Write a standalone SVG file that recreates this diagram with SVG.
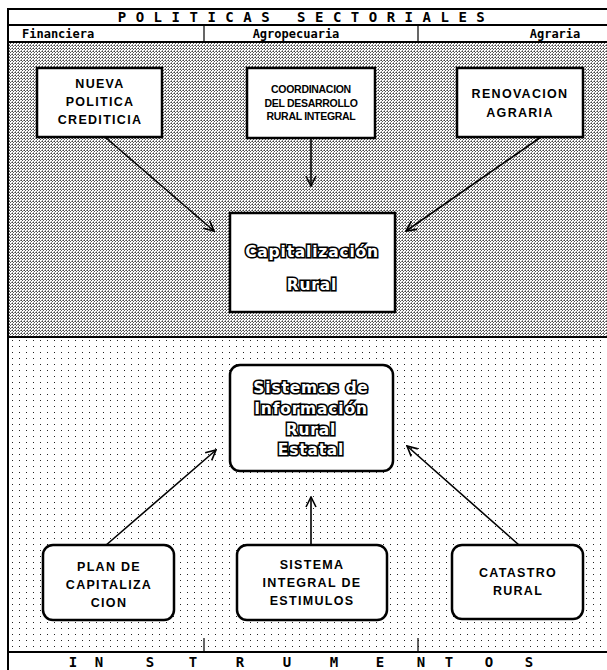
<svg xmlns="http://www.w3.org/2000/svg" width="607" height="670" viewBox="0 0 607 670">
  <defs>
    <!-- dense halftone for the policy band -->
    <pattern id="dense" x="0" y="0" width="3" height="3" patternUnits="userSpaceOnUse">
      <rect x="0" y="0" width="1" height="1" fill="#444"/>
      <rect x="2" y="0" width="1" height="1" fill="#888"/>
      <rect x="1" y="1" width="1" height="1" fill="#555"/>
      <rect x="0" y="2" width="1" height="1" fill="#999"/>
    </pattern>
    <!-- sparse dot screen for the instruments band -->
    <pattern id="sparse" x="10" y="338" width="7" height="6" patternUnits="userSpaceOnUse">
      <rect x="2" y="2" width="1" height="1" fill="#222"/>
    </pattern>
    <marker id="vee" viewBox="0 0 12 12" refX="11" refY="6" markerWidth="12" markerHeight="12" markerUnits="userSpaceOnUse" orient="auto">
      <path d="M1,1 L11,6 L1,11" fill="none" stroke="#000" stroke-width="1.6"/>
    </marker>
    <style>
      .frame { fill: none; stroke: #000; stroke-width: 2; }
      .head { font-family: "DejaVu Sans Mono", "Liberation Mono", monospace; font-weight: bold; fill: #000; }
      .box { fill: #fff; stroke: #000; stroke-width: 2.5; }
      .lbl { font-family: "Liberation Sans", Arial, sans-serif; font-weight: bold; font-size: 12.5px; fill: #000; text-anchor: middle; letter-spacing: 1.3px; }
      .cond { font-family: "Liberation Sans Narrow", "Liberation Sans", sans-serif; font-weight: bold; font-size: 10.5px; fill: #000; text-anchor: middle; letter-spacing: -0.3px; }
      .outl { font-family: "DejaVu Sans", "Liberation Sans", sans-serif; font-weight: bold; font-size: 15.5px; fill: #fff; stroke: #000; stroke-width: 3.2; paint-order: stroke; text-anchor: middle; letter-spacing: 0.8px; }
      .conn { stroke: #000; stroke-width: 1.6; fill: none; }
    </style>
  </defs>

  <rect width="607" height="670" fill="#fff"/>

  <!-- background bands -->
  <rect x="9" y="43" width="598" height="294" fill="url(#dense)"/>
  <rect x="9" y="337" width="598" height="315" fill="url(#sparse)"/>

  <!-- header frame -->
  <g id="frame">
    <line x1="8" y1="9" x2="607" y2="9" class="frame"/>
    <line x1="8" y1="25" x2="607" y2="25" class="frame"/>
    <line x1="8" y1="42" x2="607" y2="42" class="frame"/>
    <line x1="8" y1="8" x2="8" y2="670" class="frame"/>
    <line x1="8" y1="337" x2="607" y2="337" class="frame" stroke-width="2.5"/>
    <line x1="8" y1="652" x2="607" y2="652" class="frame"/>
    <line x1="204" y1="25" x2="204" y2="42" stroke="#000" stroke-width="1.2"/>
    <line x1="418" y1="25" x2="418" y2="42" stroke="#000" stroke-width="1.2"/>
    <line x1="204" y1="638" x2="204" y2="652" stroke="#000" stroke-width="1.2"/>
    <line x1="418" y1="638" x2="418" y2="652" stroke="#000" stroke-width="1.2"/>
    <text x="306" y="22" class="head" font-size="14" text-anchor="middle" letter-spacing="9.5">POLITICAS SECTORIALES</text>
    <text x="22" y="38" class="head" font-size="12">Financiera</text>
    <text x="296" y="38" class="head" font-size="12" text-anchor="middle">Agropecuaria</text>
    <text x="555" y="38" class="head" font-size="12" text-anchor="middle">Agraria</text>
    <text y="667" class="head" font-size="14" text-anchor="middle"><tspan x="73">I</tspan><tspan x="99">N</tspan><tspan x="150">S</tspan><tspan x="193">T</tspan><tspan x="240">R</tspan><tspan x="287">U</tspan><tspan x="334">M</tspan><tspan x="380">E</tspan><tspan x="421">N</tspan><tspan x="449">T</tspan><tspan x="489">O</tspan><tspan x="529">S</tspan></text>
  </g>

  <!-- connectors -->
  <g id="connectors">
    <line x1="105" y1="137" x2="214" y2="231" class="conn" marker-end="url(#vee)"/>
    <line x1="311" y1="139" x2="311" y2="186" class="conn" marker-end="url(#vee)"/>
    <line x1="541" y1="137" x2="406" y2="231" class="conn" marker-end="url(#vee)"/>
    <line x1="105" y1="546" x2="216" y2="450" class="conn" marker-end="url(#vee)"/>
    <line x1="311" y1="545" x2="311" y2="497" class="conn" marker-end="url(#vee)"/>
    <line x1="519" y1="545" x2="407" y2="446" class="conn" marker-end="url(#vee)"/>
  </g>

  <g id="nueva-politica">
    <rect x="37" y="68" width="125" height="69" class="box"/>
    <text class="lbl"><tspan x="100" y="88">NUEVA</tspan><tspan x="100" y="106">POLITICA</tspan><tspan x="100" y="124">CREDITICIA</tspan></text>
  </g>

  <g id="coordinacion">
    <rect x="247" y="68" width="128" height="70" class="box"/>
    <text class="cond"><tspan x="311" y="93">COORDINACION</tspan><tspan x="311" y="107">DEL DESARROLLO</tspan><tspan x="311" y="120">RURAL INTEGRAL</tspan></text>
  </g>

  <g id="renovacion">
    <rect x="457" y="68" width="126" height="69" class="box"/>
    <text class="lbl"><tspan x="520" y="98">RENOVACION</tspan><tspan x="520" y="117">AGRARIA</tspan></text>
  </g>

  <g id="capitalizacion">
    <rect x="230" y="213" width="165" height="99" class="box"/>
    <text class="outl"><tspan x="312" y="257">Capitalización</tspan><tspan x="312" y="290">Rural</tspan></text>
  </g>

  <g id="sistemas-informacion">
    <rect x="230" y="365" width="163" height="106" rx="10" class="box"/>
    <text class="outl"><tspan x="311" y="393">Sistemas de</tspan><tspan x="311" y="414">Información</tspan><tspan x="311" y="435">Rural</tspan><tspan x="311" y="455">Estatal</tspan></text>
  </g>

  <g id="plan-capitalizacion">
    <rect x="43" y="545" width="131" height="75" rx="10" class="box"/>
    <text class="lbl"><tspan x="109" y="571">PLAN DE</tspan><tspan x="109" y="589">CAPITALIZA</tspan><tspan x="109" y="607">CION</tspan></text>
  </g>

  <g id="sistema-estimulos">
    <rect x="237" y="545" width="150" height="75" rx="10" class="box"/>
    <text class="lbl"><tspan x="312" y="569">SISTEMA</tspan><tspan x="312" y="587">INTEGRAL DE</tspan><tspan x="312" y="605">ESTIMULOS</tspan></text>
  </g>

  <g id="catastro">
    <rect x="452" y="545" width="131" height="74" rx="10" class="box"/>
    <text class="lbl"><tspan x="518" y="577">CATASTRO</tspan><tspan x="518" y="595">RURAL</tspan></text>
  </g>
</svg>
